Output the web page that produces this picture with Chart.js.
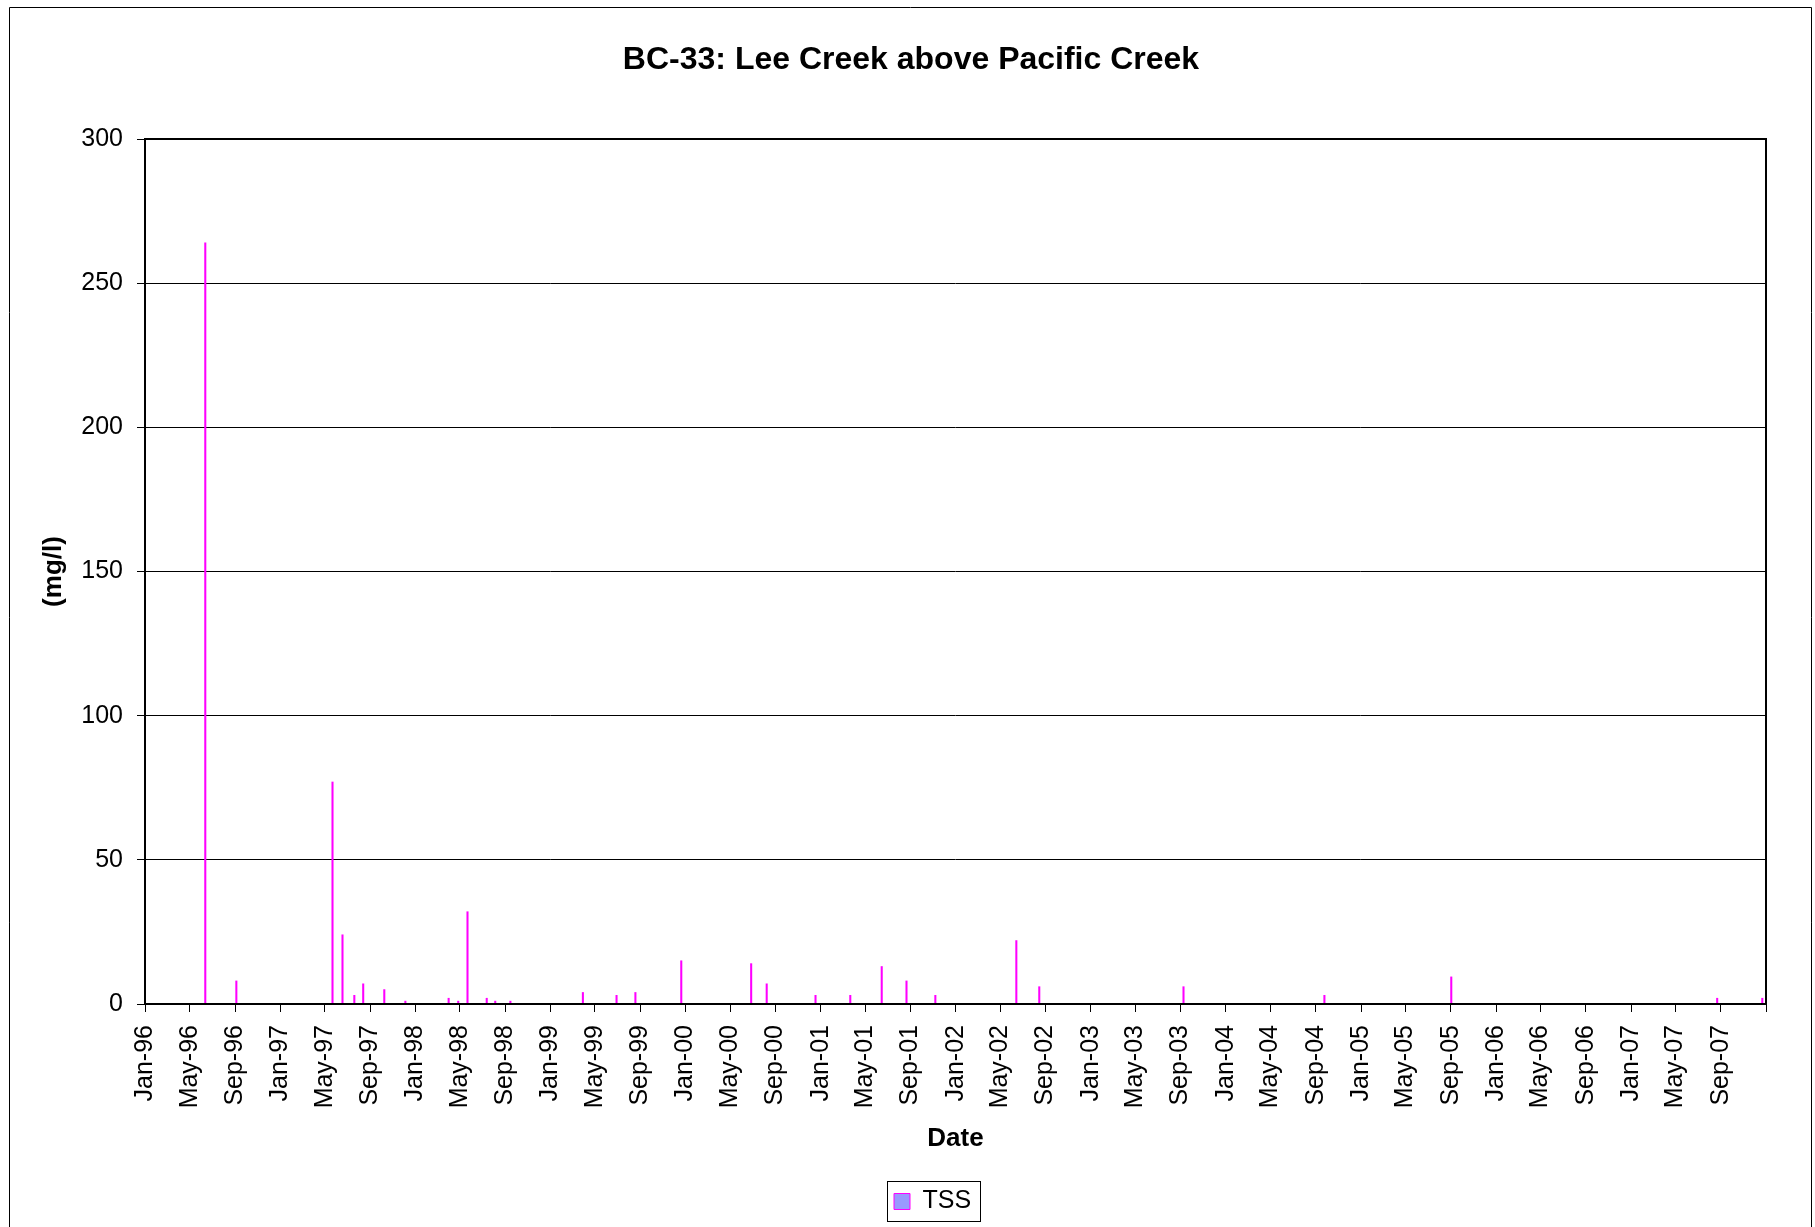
<!DOCTYPE html>
<html>
<head>
<meta charset="utf-8">
<title>BC-33: Lee Creek above Pacific Creek</title>
<script src="https://cdn.jsdelivr.net/npm/chart.js@4.4.1/dist/chart.umd.min.js"></script>
<style>
  html, body { margin: 0; padding: 0; background: #fff; }
  #wrap { width: 1815px; height: 1227px; position: relative; }
</style>
</head>
<body>
<div id="wrap"><canvas id="tssChart"></canvas></div>
<script>
// ---- data ----
const chartTitle = 'BC-33: Lee Creek above Pacific Creek';
const seriesName = 'TSS';
const xAxisTitle = 'Date';
const yAxisTitle = '(mg/l)';

// sampling dates (YYYY-MM-DD) and total suspended solids (mg/l)
const sampleDates = [
  '1996-06-12', '1996-09-04', '1997-05-22', '1997-06-18', '1997-07-20', '1997-08-13',
  '1997-10-09', '1997-12-05', '1998-04-01', '1998-04-27', '1998-05-22', '1998-07-13',
  '1998-08-05', '1998-09-15', '1999-03-30', '1999-06-29', '1999-08-19', '1999-12-21',
  '2000-06-27', '2000-08-08', '2000-12-18', '2001-03-22', '2001-06-15', '2001-08-21',
  '2001-11-07', '2002-06-14', '2002-08-15', '2003-09-09', '2004-09-24', '2005-09-02',
  '2007-08-22', '2007-12-22'
];
const tssValues = [
  264, 8, 77, 24, 3, 7,
  5, 1, 2, 1, 32, 2,
  1, 1, 4, 3, 4, 15,
  14, 7, 3, 3, 13, 8,
  3, 22, 6, 6, 3, 9.4,
  2, 2
];

// date axis labels, one every four months; the axis closes at axisEnd
const tickLabels = [
  'Jan-96', 'May-96', 'Sep-96', 'Jan-97', 'May-97', 'Sep-97',
  'Jan-98', 'May-98', 'Sep-98', 'Jan-99', 'May-99', 'Sep-99',
  'Jan-00', 'May-00', 'Sep-00', 'Jan-01', 'May-01', 'Sep-01',
  'Jan-02', 'May-02', 'Sep-02', 'Jan-03', 'May-03', 'Sep-03',
  'Jan-04', 'May-04', 'Sep-04', 'Jan-05', 'May-05', 'Sep-05',
  'Jan-06', 'May-06', 'Sep-06', 'Jan-07', 'May-07', 'Sep-07'
];
const axisEnd = 'Jan-08';
const yMin = 0, yMax = 300, yStep = 50;

// ---- date helpers (days since the first axis month) ----
const MONTHS = ['Jan','Feb','Mar','Apr','May','Jun','Jul','Aug','Sep','Oct','Nov','Dec'];
const EPOCH = Date.UTC(1996, 0, 1);
function dayOf(y, m, d) { return (Date.UTC(y, m, d) - EPOCH) / 86400000; }
function isoDay(s) { const [y, m, d] = s.split('-').map(Number); return dayOf(y, m - 1, d); }
function labelDay(lbl) {
  const [mon, yy] = lbl.split('-');
  const n = Number(yy);
  return dayOf(n < 50 ? 2000 + n : 1900 + n, MONTHS.indexOf(mon), 1);
}

const tickValues = tickLabels.map(labelDay).concat(labelDay(axisEnd));
const points = sampleDates.map((d, i) => ({ x: isoDay(d), y: tssValues[i] }));

// ---- styling ----
const FONT = "'Liberation Sans', Arial, Helvetica, sans-serif";
Chart.defaults.font.family = FONT;
Chart.defaults.color = '#000';

const BAR_COLOR = '#FF00FF';
const SWATCH_FILL = '#9999FF';
const TITLE_CENTER_X = 911;                  // centre of the outer chart border
const LEGEND_ITEM = { x: 894, y: 1189 };     // top-left of the legend swatch row
const LEGEND_FRAME = { left: 887, top: 1181, right: 980, bottom: 1221 };

const framePlugin = {
  id: 'frames',
  beforeDraw(chart) {
    const c = chart.ctx;
    c.save();
    c.fillStyle = '#fff';
    c.fillRect(0, 0, chart.width, chart.height);
    // outer chart border
    c.strokeStyle = '#000';
    c.lineWidth = 1;
    c.beginPath();
    c.moveTo(9.5, chart.height);
    c.lineTo(9.5, 7.5);
    c.lineTo(chart.width - 3.5, 7.5);
    c.lineTo(chart.width - 3.5, chart.height);
    c.stroke();
    c.restore();
  },
  afterLayout(chart) {
    // centre the title on the outer border
    const tb = chart.titleBlock;
    const half = Math.min(TITLE_CENTER_X, chart.width - TITLE_CENTER_X);
    tb.left = TITLE_CENTER_X - half;
    tb.right = TITLE_CENTER_X + half;
    tb.width = tb.right - tb.left;
    // place the legend below the date axis title
    const lg = chart.legend;
    const pad = lg.options.labels.padding;
    lg.left = LEGEND_ITEM.x - pad;
    lg.top = LEGEND_ITEM.y - pad;
    lg.right = lg.left + lg.width;
    lg.bottom = lg.top + lg.height;
  },
  afterDraw(chart) {
    const c = chart.ctx;
    const a = chart.chartArea;
    c.save();
    // plot area frame
    c.strokeStyle = '#000';
    c.lineWidth = 2;
    c.strokeRect(a.left, a.top, a.right - a.left, a.bottom - a.top);
    // legend frame
    c.lineWidth = 1;
    c.strokeRect(LEGEND_FRAME.left + 0.5, LEGEND_FRAME.top + 0.5,
                 LEGEND_FRAME.right - LEGEND_FRAME.left, LEGEND_FRAME.bottom - LEGEND_FRAME.top);
    c.restore();
  }
};

new Chart(document.getElementById('tssChart'), {
  type: 'bar',
  data: {
    datasets: [{
      label: seriesName,
      data: points,
      backgroundColor: BAR_COLOR,
      borderWidth: 0,
      barThickness: 1.4
    }]
  },
  options: {
    responsive: true,
    maintainAspectRatio: false,
    animation: false,
    events: [],
    layout: { padding: { left: 0, right: 49, top: 0, bottom: 0 } },
    plugins: {
      title: {
        display: true,
        text: chartTitle,
        color: '#000',
        font: { size: 32, weight: 'bold' },
        padding: { top: 40.8, bottom: 59.8 }
      },
      legend: {
        position: 'chartArea',
        align: 'start',
        labels: {
          boxWidth: 16,
          boxHeight: 16,
          padding: 10,
          color: '#000',
          font: { size: 25 },
          // lavender swatch outlined in the bar colour
          generateLabels(chart) {
            return Chart.defaults.plugins.legend.labels.generateLabels(chart).map(item => ({
              ...item, fillStyle: SWATCH_FILL, strokeStyle: BAR_COLOR, lineWidth: 1
            }));
          }
        }
      },
      tooltip: { enabled: false }
    },
    scales: {
      x: {
        type: 'linear',
        min: tickValues[0],
        max: tickValues[tickValues.length - 1],
        offset: false,
        afterBuildTicks(scale) { scale.ticks = tickValues.map(v => ({ value: v })); },
        afterFit(scale) { scale.height = 223; },
        ticks: {
          autoSkip: false,
          minRotation: 90,
          maxRotation: 90,
          padding: 13,
          color: '#000',
          font: { size: 25 },
          callback: (value, index) => tickLabels[index] ?? ''
        },
        grid: { drawOnChartArea: false, drawTicks: true, tickLength: 8, color: '#000', offset: false },
        border: { display: false },
        title: {
          display: true,
          text: xAxisTitle,
          color: '#000',
          font: { size: 26, weight: 'bold' },
          padding: { top: 0, bottom: 72.4 }
        }
      },
      y: {
        min: yMin,
        max: yMax,
        afterFit(scale) { scale.width = 145; },
        ticks: { stepSize: yStep, padding: 14, color: '#000', font: { size: 25 } },
        grid: { color: '#000', lineWidth: 1, tickLength: 8 },
        border: { display: false },
        title: {
          display: true,
          text: yAxisTitle,
          color: '#000',
          font: { size: 26, weight: 'bold' },
          padding: { top: 38.4, bottom: 0 }
        }
      }
    }
  },
  plugins: [framePlugin]
});
</script>
</body>
</html>
